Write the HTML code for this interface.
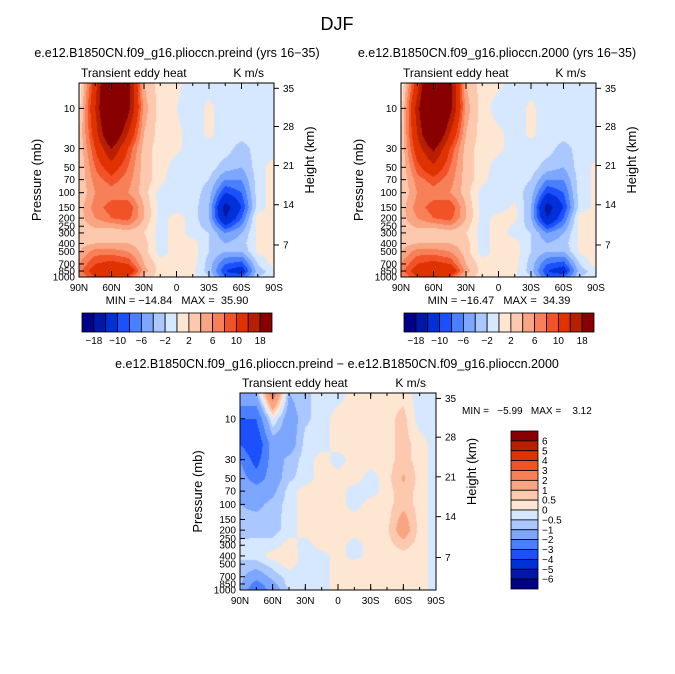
<!DOCTYPE html>
<html><head><meta charset="utf-8">
<style>
html,body{margin:0;padding:0;background:#fff;}
#wrap{position:relative;width:675px;height:674px;overflow:hidden;font-family:"Liberation Sans",sans-serif;}
canvas{position:absolute;}
svg{position:absolute;left:0;top:0;}
text{font-family:"Liberation Sans",sans-serif;fill:#000;white-space:pre;}
</style></head>
<body>
<div id="wrap">
<canvas id="c1" width="195" height="194" style="left:79px;top:83px"></canvas>
<canvas id="c2" width="195" height="194" style="left:401px;top:83px"></canvas>
<canvas id="c3" width="196" height="197" style="left:240px;top:393px"></canvas>
<svg id="svg" width="675" height="674"></svg>
</div>
<script>
// ---- data ----
const lats = [90,75,60,45,30,15,0,-15,-30,-45,-60,-75,-90];
const plevs = [5,10,20,30,50,70,100,150,200,300,400,500,700,850,1000];
const field1 = [
[0,12,30,20,4,1,0.5,-1,-1,-1,-1,-1,-1],
[1,14,30,20,5,1,0,-1,0.5,-1,-1,-1,-1],
[2,12,25,14,4,1,0.5,-1,0.5,-1,-1,-1,-1],
[2,10,18,10,3,1,0.5,-1,-1,-1,-3,-1,-1],
[2,8,12,8,3,1,-1,-1,-1,-3,-4,-1,1],
[2,7,9,7,3,1,-2,-1,-2,-6,-6,-1,1],
[2,6,7,6,3,-1,-1,-1,-3,-10,-8,-1,1],
[3,7,9,10,4,-1,-1,-1,-4,-16,-10,-1,1],
[3,6,8,9,4,-1,1,-1,-4,-14,-8,1,1],
[3,3,2,3,2,-1,1,-1,-2,-6,-4,0.5,1],
[3,4,4,4,3,-1,1,1,-2,-4,-3,0.5,1],
[4,7,7,6,3,-1,1,1,-2,-4,-4,0.5,1],
[6,10,11,10,4,1,1,1,-3,-8,-9,-2,1],
[7,12,12,14,5,1,1,0.5,-3,-10,-12,-3,-1],
[6,10,10,9,3,1,0.5,0.5,-2,-8,-8,-2,-1]];
const field2 = [
[0,12,30,20,4,1,0.5,-1,-1,-1,-1,-1,-1],
[1,16,32,20,5,1,-1,-1,0.5,-1,-1,-1,-1],
[2,14,27,14,4,1,0.5,-1,0.5,-1,-1,-1,-1],
[2,12,19,10,3,1,0.5,-1,-1,-1,-3,-1,-1],
[2,9,13,8,3,1,-1,-1,-1,-3,-4,-1,0.5],
[2,7,9,7,3,1,-2,-1,-2,-6,-6,-1,0.5],
[2,6,7,6,3,-1,-1,-1,-3,-10,-8,-1,0.5],
[3,7,9,10,4,-1,-1,0.5,-4,-16,-10,-1,0.5],
[3,6,8,9,4,-1,1,0.5,-4,-14,-8,1,1],
[3,3,2,3,2,-1,1,-1,-2,-6,-4,0.5,1],
[3,4,4,4,3,-1,1,1,-2,-4,-3,0.5,1],
[4,7,7,6,3,-1,1,1,-2,-4,-4,0.5,1],
[6,10,11,10,4,1,1,1,-3,-8,-9,-2,1],
[7,12,12,14,5,1,1,0.5,-3,-10,-12,-3,-1],
[6,10,10,9,3,1,0.5,0.5,-2,-8,-8,-2,-1]];
const field3 = [
[-1,-1,3,-1,-0.6,-0.3,-0.3,0.3,0.3,0.3,0.3,-0.3,-0.3],
[-3,-3,0,-1.5,-0.6,-0.3,0.3,0.3,0.3,0.3,0.7,-0.3,-0.3],
[-3,-4,-1.5,-1.5,-0.3,-0.3,0.3,0.3,0.3,0.3,0.7,0.3,-0.3],
[-2,-3.5,-1.5,-0.8,-0.3,0.3,-0.3,0.3,0.3,0.3,0.7,0.3,-0.3],
[-1.5,-2.5,-1.5,-0.6,-0.3,0.3,0.3,0.3,-0.3,0.3,1.1,0.3,-0.3],
[-1,-1.5,-1.2,-0.3,0.3,0.3,0.3,-0.3,-0.3,0.3,0.8,0.3,-0.3],
[-1,-1.2,-0.8,-0.3,0.3,0.3,0.3,-0.3,0.3,0.3,0.8,0.3,-0.3],
[-0.8,-0.8,-0.7,-0.3,0.3,0.4,0.3,0.3,0.3,0.3,1.3,0.3,-0.3],
[-0.8,-0.7,-0.7,-0.3,0.3,0.4,0.3,0.3,0.3,0.4,1.5,0.3,-0.3],
[-0.3,-0.3,-0.3,0.3,-0.3,0.3,0.3,-0.3,0.3,0.3,0.7,0.3,-0.3],
[-0.3,-0.3,0.3,0.4,-0.3,-0.3,0.3,-0.3,0.3,0.3,0.3,0.3,-0.3],
[-0.7,-0.7,-0.3,0.3,-0.3,-0.3,0.3,0.3,0.3,0.3,0.3,0.3,-0.3],
[-0.8,-1.5,-0.8,-0.3,-0.3,-0.3,0.3,0.3,0.3,0.3,0.3,0.3,-0.3],
[-0.8,-2.5,-1.2,-0.3,-0.3,-0.3,0.3,0.3,0.3,0.3,0.3,0.3,-0.3],
[-1,-3,-1.5,-0.5,-0.3,-0.3,0.3,0.3,0.3,0.3,0.3,0.3,-0.3]];
const levels12 = [-18,-14,-10,-8,-6,-4,-2,0,2,4,6,8,10,14,18];
const levels3 = [-6,-5,-4,-3,-2,-1,-0.5,0,0.5,1,2,3,4,5,6];
const colorbarLabels12 = ["−18","−10","−6","−2","2","6","10","18"];
const colorbarLabels3 = ["6","5","4","3","2","1","0.5","0","−0.5","−1","−2","−3","−4","−5","−6"];
const pressTicks = [10,30,50,70,100,150,200,250,300,400,500,700,850,1000];
const heightTicks = [7,14,21,28,35];
const heightTickP = [417,139,47.6,16.4,5.78];
const latTicks = ["90N","60N","30N","0","30S","60S","90S"];
const palette = ["#00008a","#0018a8","#0030d8","#1c50ff","#4a80ff","#7ca6ff","#aac8ff","#d6e8ff","#fde6d2","#fcc8ae","#f9a482","#f88058","#f25228","#e03200","#b81e00","#880000"];

// ---- rendering ----
const PTOP=5;
function yOfP(p,top,h){
  const a=Math.log10(PTOP), b=3;
  return top+(Math.log10(p)-a)/(b-a)*h;
}
function hex(c){return [parseInt(c.substr(1,2),16),parseInt(c.substr(3,2),16),parseInt(c.substr(5,2),16)];}
const pal=palette.map(hex);
function drawField(id,field,levels){
  const cv=document.getElementById(id),ctx=cv.getContext('2d');
  const W=cv.width,H=cv.height,img=ctx.createImageData(W,H);
  const lp=plevs.map(p=>Math.log10(p));
  for(let y=0;y<H;y++){
    const L=Math.log10(PTOP)+(y+0.5)/H*(3-Math.log10(PTOP));
    let j=0; while(j<lp.length-2 && L>lp[j+1]) j++;
    let ty=(L-lp[j])/(lp[j+1]-lp[j]); ty=Math.max(0,Math.min(1,ty));
    for(let x=0;x<W;x++){
      const fx=(x+0.5)/W*(lats.length-1);
      const i=Math.min(lats.length-2,Math.floor(fx)), tx=fx-i;
      const v=(field[j][i]*(1-tx)+field[j][i+1]*tx)*(1-ty)+(field[j+1][i]*(1-tx)+field[j+1][i+1]*tx)*ty;
      let k=0; while(k<levels.length && v>levels[k]) k++;
      const c=pal[k],o=(y*W+x)*4;
      img.data[o]=c[0];img.data[o+1]=c[1];img.data[o+2]=c[2];img.data[o+3]=255;
    }
  }
  ctx.putImageData(img,0,0);
}
drawField('c1',field1,levels12);
drawField('c2',field2,levels12);
drawField('c3',field3,levels3);

const svg=document.getElementById('svg'),NS='http://www.w3.org/2000/svg';
function el(tag,attrs,txt){const e=document.createElementNS(NS,tag);for(const k in attrs)e.setAttribute(k,attrs[k]);if(txt!==undefined)e.textContent=txt;svg.appendChild(e);return e;}
function txt(x,y,s,size,anchor,name,extra){const t=el('text',Object.assign({x:x,y:y,'font-size':size,'text-anchor':anchor||'start'},extra||{}),s);
  
  
  return t;}

function axes(L,T,W,H,pfx){
  const r=el('rect',{x:L,y:T,width:W,height:H,fill:'none',stroke:'#000','stroke-width':1});
  
  
  pressTicks.forEach(p=>{const y=yOfP(p,T,H);
    el('line',{x1:L,x2:L+5,y1:y,y2:y,stroke:'#000'});
    txt(L-4,y+3.5,String(p),10,'end',pfx+'-pressure-tick-label');});
  heightTickP.forEach((p,i)=>{const y=yOfP(p,T,H);
    el('line',{x1:L+W,x2:L+W+5,y1:y,y2:y,stroke:'#000'});
    txt(L+W+9,y+3.5,String(heightTicks[i]),10,'start',pfx+'-height-tick-label');});
  latTicks.forEach((s,i)=>{const x=L+i*W/(latTicks.length-1);
    el('line',{x1:x,x2:x,y1:T+H,y2:T+H-6,stroke:'#000'});
    el('line',{x1:x,x2:x,y1:T,y2:T+6,stroke:'#000'});
    txt(x,T+H+14,s,10,'middle',pfx+'-lat-tick-label');});
  for(let i=0;i<=12;i++){const x=L+i*W/12;
    el('line',{x1:x,x2:x,y1:T+H,y2:T+H-3,stroke:'#000'});
    el('line',{x1:x,x2:x,y1:T,y2:T+3,stroke:'#000'});}
  txt(L+2,T-6,'Transient eddy heat',12,'start',pfx+'-variable-label');
  txt(L+W-10,T-6,'K m/s',12,'end',pfx+'-units-label');
  txt(0,0,'Pressure (mb)',13,'middle',pfx+'-y-axis-title',{transform:`translate(${L-38},${T+H/2}) rotate(-90)`});
  txt(0,0,'Height (km)',13,'middle',pfx+'-right-axis-title',{transform:`translate(${L+W+40},${T+H/2-20}) rotate(-90)`});
}
txt(337,30,'DJF',18,'middle','figure-title');
txt(177,57,'e.e12.B1850CN.f09_g16.plioccn.preind (yrs 16−35)',12.5,'middle','preind-panel-title');
txt(497,57,'e.e12.B1850CN.f09_g16.plioccn.2000 (yrs 16−35)',12.5,'middle','2000-panel-title');
txt(337,368,'e.e12.B1850CN.f09_g16.plioccn.preind − e.e12.B1850CN.f09_g16.plioccn.2000',12.5,'middle','difference-panel-title');
axes(79,83,195,194,'preind');
axes(401,83,195,194,'2000');
axes(240,393,196,197,'difference');
txt(177,304,'MIN = −14.84   MAX =  35.90',11,'middle','preind-min-max');
txt(499,304,'MIN = −16.47   MAX =  34.39',11,'middle','2000-min-max');
txt(462,414,'MIN =   −5.99   MAX =    3.12',10,'start','difference-min-max');

function hbar(L,pfx){
  const T=313,Hh=19,bw=190/16;
  palette.forEach((c,i)=>{const r=el('rect',{x:L+i*bw,y:T,width:bw,height:Hh,fill:c,stroke:'#000','stroke-width':0.8});
    
    });
  colorbarLabels12.forEach((s,i)=>txt(L+(1+2*i)*bw,T+Hh+12,s,10,'middle',pfx+'-colorbar-label'));
}
hbar(82,'preind');hbar(404,'2000');
(function(){
  const L=511,T=431,bw=27,bh=158/16;
  for(let i=0;i<16;i++){const r=el('rect',{x:L,y:T+i*bh,width:bw,height:bh,fill:palette[15-i],stroke:'#000','stroke-width':0.8});
    
    }
  colorbarLabels3.forEach((s,i)=>txt(L+bw+4,T+(i+1)*bh+3.5,s,10,'start','difference-colorbar-label'));
})();
</script>
</body></html>
